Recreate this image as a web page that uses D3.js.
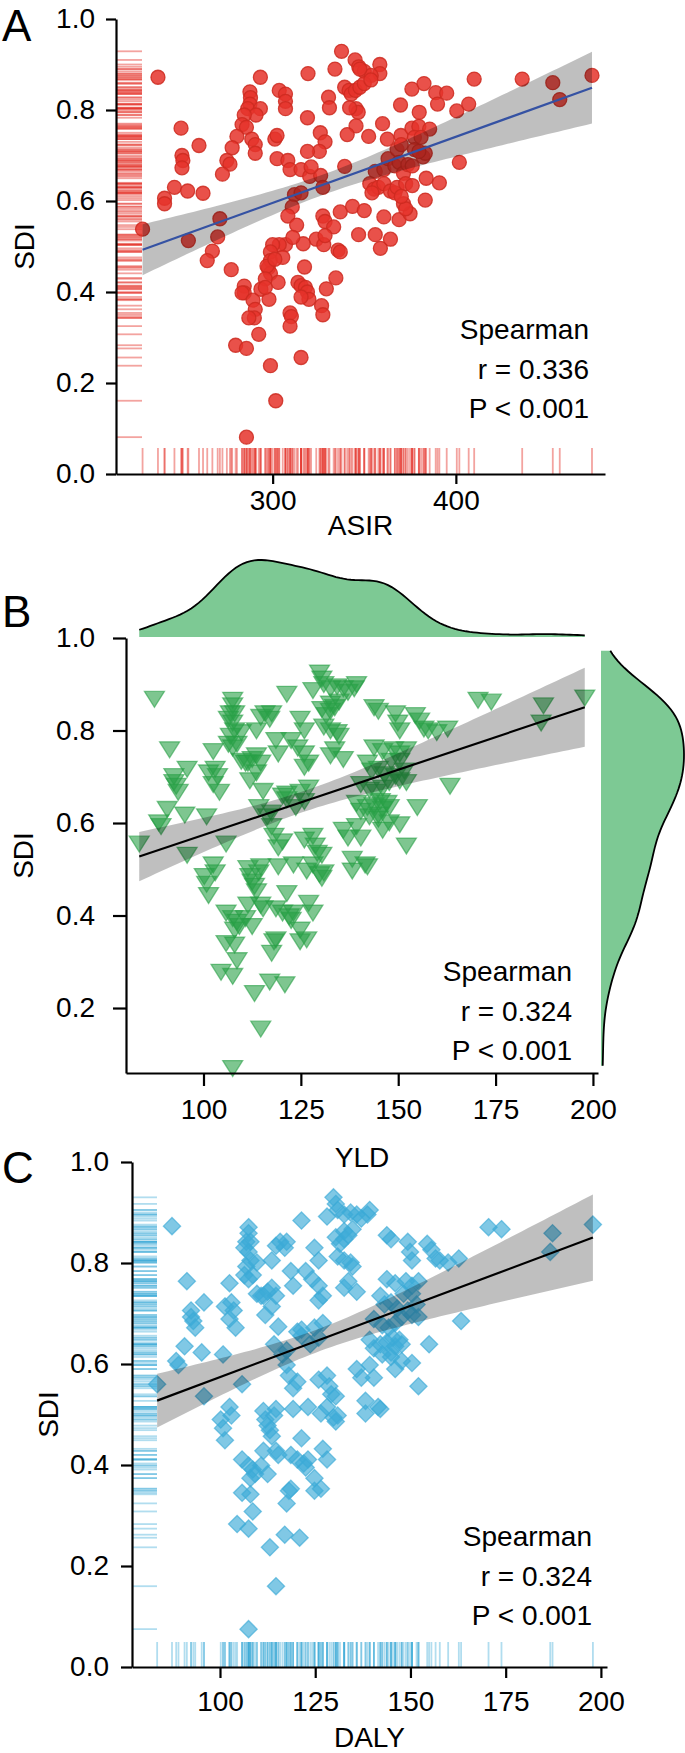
<!DOCTYPE html>
<html>
<head>
<meta charset="utf-8">
<script src="https://cdn.jsdelivr.net/npm/d3@7"></script>
<style>
  body { margin: 0; background: #fff; }
  svg text { font-family: "Liberation Sans", Arial, Helvetica, sans-serif; fill: #000; }
</style>
</head>
<body>
<svg id="chart" width="685" height="1753"></svg>
<script>
// ---- data ----
// panel A: ASIR vs SDI
var asirValues = [337.6,345,347,350,358.5,358.5,353.8,347.6,334,237.4,293.3,319.3,410,436.2,452.9,474.3,456.7,376,382.6,389,
  395,390,369.8,380,400.5,407,287.6,287.9,287.6,286.4,293.3,290.9,284.5,283.3,285.7,303.6,307,307,307,330.5,
  331,339.3,341.7,342.9,345.2,347.6,350,353.6,345.5,346.7,319,345.5,340.7,352.4,360,362.6,370,376,379.8,385.7,
  377.4,381,326,328.6,325.5,319,301.2,302.4,280.5,288.6,290.5,290.5,277.9,275,276.7,272.6,259.8,250,250.5,251,
  250.5,246.4,253.6,241,241,262,229,254,271.2,270,267.1,264.3,277.4,302.4,308.3,309.5,315.5,320.2,326.2,327.4,
  311.9,315.5,310.7,308.3,313.1,336.9,343.6,350,327.4,328.6,333.3,323.8,327.9,328.6,316.7,335.7,336.9,346.9,356,364.3,
  358.8,360.7,369,375,371.4,372.6,383.3,339.3,356,360.7,363,367.9,370.2,366.7,369,371.4,373.8,376.2,377.4,382.1,
  383.3,379.8,353,355.4,357.7,354.2,360.7,364.3,366.7,367.9,372.6,376.2,370.2,383.8,391,401.9,307,303.6,300,298.8,
  298.8,297.6,298.8,296.9,305.5,301.2,296,303,284.5,284.5,283.3,289.3,290.5,290,287,293.6,298,292.4,279.8,285.7,
  298.8,301.7,285.7,315.5,309.5,310.2,309.5,313.8,315.5,317.9,319,319.8,315.5,317.4,326.7,327.4,334.5,329.3,311,321,
  342,296];
var sdiA = [0.929,0.91,0.895,0.885,0.9,0.88,0.876,0.89,0.89,0.872,0.872,0.88,0.868,0.868,0.86,0.876,0.823,0.846,0.858,0.838,
  0.837,0.813,0.811,0.795,0.798,0.813,0.84,0.827,0.813,0.803,0.803,0.789,0.789,0.768,0.762,0.843,0.835,0.819,0.803,0.828,
  0.805,0.85,0.843,0.835,0.843,0.85,0.858,0.866,0.803,0.795,0.783,0.765,0.746,0.742,0.77,0.736,0.744,0.76,0.764,0.758,
  0.74,0.74,0.75,0.73,0.709,0.709,0.736,0.744,0.742,0.736,0.724,0.705,0.717,0.689,0.681,0.659,0.722,0.76,0.7,0.689,
  0.673,0.63,0.622,0.606,0.594,0.617,0.538,0.513,0.561,0.521,0.49,0.469,0.449,0.693,0.689,0.669,0.669,0.654,0.656,0.63,
  0.614,0.618,0.587,0.567,0.547,0.576,0.588,0.579,0.567,0.555,0.543,0.516,0.504,0.524,0.506,0.492,0.488,0.526,0.526,0.516,
  0.496,0.565,0.559,0.572,0.594,0.583,0.602,0.676,0.665,0.669,0.693,0.713,0.724,0.677,0.685,0.661,0.68,0.677,0.713,0.697,
  0.705,0.709,0.638,0.626,0.63,0.618,0.638,0.622,0.618,0.63,0.638,0.634,0.61,0.65,0.64,0.685,0.504,0.504,0.504,0.488,
  0.469,0.453,0.441,0.457,0.476,0.472,0.429,0.421,0.413,0.398,0.398,0.382,0.362,0.343,0.343,0.406,0.384,0.307,0.283,0.276,
  0.238,0.161,0.081,0.256,0.354,0.346,0.325,0.421,0.414,0.41,0.4,0.384,0.389,0.455,0.37,0.35,0.431,0.407,0.52,0.675,
  0.805,0.41];

// panel B: YLD vs SDI (panel C repeats the same countries against DALY)
var yldValues = [87.4,107.5,114.7,113.1,117,120.9,104.5,107.5,108.6,105.8,108,117.5,118.1,118.6,124.8,126.5,105.8,107.5,108.6,108,
  109.2,110.8,112.5,111.4,114.7,115.3,118.6,120.3,122,122.5,123.1,124.8,121.4,127,128.1,100.2,100.8,101.3,102.5,103,
  95.8,83.5,105.8,111.4,111.9,112.5,113.6,113.1,114.2,114.7,119.2,123.1,126.5,128.1,129.8,130.4,130.9,120.3,125.9,128.1,
  128.7,130.4,129.2,117.5,118.1,119.2,116.4,117.5,114.2,121.4,120.3,121.4,123.7,124.8,125.9,127,115.3,111.9,113.6,114.7,
  111.4,109.7,110.8,112.5,113.6,115.8,117.5,117,114.7,113.6,107.5,107.5,106.9,108,106.4,107.5,108,106.9,106.4,107.5,
  108.6,109.7,102.5,103,102.5,103.6,104.1,101.3,91.3,92.4,92.4,93,93.5,95.8,90.7,88.5,89.1,95.2,100.8,121.4,
  128.1,129.8,130.4,130.9,132.6,134.3,135.9,137.1,138.7,139.3,132.6,133.7,134.8,132.6,130.4,131.5,130.9,132.6,134.3,134.8,
  132.6,135.9,133.7,124.8,125.9,122.5,124.2,125.9,127,118.6,119.2,125.9,143.8,144.9,149.3,149.9,150.4,154.4,155.5,156.6,
  157.7,159.9,162.7,143.8,146,148.8,150.4,152.1,148.2,150.4,151.6,142.1,143.2,144.9,146.5,140.4,142.6,144.3,146,147.7,
  149.3,150.4,152.1,139.3,140.4,142.1,143.8,145.4,147.1,142.6,144.9,146,147.7,154.9,163.3,150.4,146,144.9,147.7,152.1,
  135.9,137.1,139.3,140.4,142.1,138.2,141.5,138.2,170.5,173.9,187.3,186.7,197.9];
var sdiB = [0.873,0.075,0.16,0.237,0.262,0.256,0.283,0.274,0.308,0.345,0.342,0.324,0.349,0.353,0.349,0.353,0.411,0.399,0.391,0.374,
  0.382,0.399,0.382,0.428,0.428,0.42,0.42,0.411,0.403,0.395,0.411,0.374,0.453,0.432,0.411,0.49,0.473,0.449,0.515,0.498,
  0.536,0.56,0.56,0.507,0.49,0.478,0.457,0.469,0.498,0.511,0.511,0.515,0.502,0.515,0.494,0.486,0.498,0.565,0.569,0.577,
  0.556,0.536,0.54,0.598,0.577,0.552,0.619,0.627,0.639,0.656,0.664,0.668,0.639,0.672,0.652,0.681,0.674,0.697,0.714,0.735,
  0.735,0.739,0.735,0.743,0.751,0.842,0.842,0.83,0.834,0.805,0.871,0.859,0.842,0.842,0.83,0.822,0.805,0.793,0.776,0.768,
  0.776,0.801,0.76,0.722,0.689,0.706,0.672,0.714,0.764,0.706,0.693,0.685,0.672,0.722,0.635,0.606,0.598,0.623,0.619,0.884,
  0.892,0.93,0.917,0.905,0.896,0.9,0.896,0.888,0.896,0.905,0.863,0.855,0.867,0.847,0.851,0.838,0.813,0.805,0.801,0.793,
  0.751,0.743,0.764,0.83,0.805,0.784,0.768,0.755,0.735,0.784,0.755,0.726,0.855,0.847,0.842,0.822,0.805,0.838,0.826,0.809,
  0.805,0.801,0.809,0.768,0.76,0.764,0.755,0.764,0.739,0.739,0.718,0.735,0.718,0.722,0.71,0.689,0.677,0.672,0.681,0.693,
  0.706,0.697,0.693,0.648,0.631,0.639,0.643,0.652,0.648,0.619,0.623,0.635,0.639,0.639,0.685,0.602,0.59,0.614,0.606,0.556,
  0.59,0.573,0.598,0.573,0.511,0.502,0.515,0.527,0.871,0.867,0.859,0.822,0.876];
var dalyValues = yldValues;
var sdiC = sdiB;

var asirTicks = [300, 400];
var yldTicks = [100, 125, 150, 175, 200];
var sdiTicks = [0, 0.2, 0.4, 0.6, 0.8, 1.0];
var sdiTicksB = [0.2, 0.4, 0.6, 0.8, 1.0];
var statsA = ["Spearman", "r = 0.336", "P < 0.001"];
var statsB = ["Spearman", "r = 0.324", "P < 0.001"];
var statsC = ["Spearman", "r = 0.324", "P < 0.001"];

var svg = d3.select("#chart");
var FS = 28;

// least squares fit with the usual 95% band
function linFit(xs, ys) {
    var n = xs.length, mx = d3.mean(xs), my = d3.mean(ys);
    var sxx = d3.sum(xs, function(d) { return (d - mx) * (d - mx); });
    var sxy = d3.sum(xs, function(d, i) { return (d - mx) * (ys[i] - my); });
    var b = sxy / sxx, a = my - b * mx;
    var rss = d3.sum(xs, function(d, i) { var e = ys[i] - a - b * d; return e * e; });
    var s = Math.sqrt(rss / (n - 2));
    return {
        at: function(x) { return a + b * x; },
        half: function(x) { return 1.972 * s * Math.sqrt(1 / n + (x - mx) * (x - mx) / sxx); }
    };
}

// gaussian kde, bandwidth like R's bw.nrd0
function bwNrd0(v) {
    var sorted = v.slice().sort(d3.ascending);
    var q = (d3.quantile(sorted, 0.75) - d3.quantile(sorted, 0.25)) / 1.34;
    return 0.9 * Math.min(d3.deviation(v), q) * Math.pow(v.length, -0.2);
}
function kde(v, grid) {
    var bw = bwNrd0(v);
    return grid.map(function(g) {
        var sum = d3.sum(v, function(d) { var z = (g - d) / bw; return Math.exp(-0.5 * z * z); });
        return [g, sum / (v.length * bw * Math.sqrt(2 * Math.PI))];
    });
}

function styleAxis(g) {
    g.selectAll("path, line").attr("stroke", "#000").attr("stroke-width", 2.2);
    g.selectAll("text").attr("font-size", FS).attr("fill", "#000")
        .attr("font-family", '"Liberation Sans", Arial, Helvetica, sans-serif');
}

function drawPanel(p) {
    var x = d3.scaleLinear().domain(p.xDomain).range(p.xRange);
    var y = d3.scaleLinear().domain(p.yDomain).range(p.yRange);
    var g = svg.append("g");

    // rugs
    if (p.rug) {
        g.append("g").selectAll("line").data(p.ys).enter().append("line")
            .attr("x1", p.xRange[0]).attr("x2", p.xRange[0] + p.rug)
            .attr("y1", function(d) { return y(d); }).attr("y2", function(d) { return y(d); })
            .attr("stroke", p.color).attr("stroke-opacity", p.rugOpacity).attr("stroke-width", 1.8);
        g.append("g").selectAll("line").data(p.xs).enter().append("line")
            .attr("y1", p.yRange[0]).attr("y2", p.yRange[0] - p.rug)
            .attr("x1", function(d) { return x(d); }).attr("x2", function(d) { return x(d); })
            .attr("stroke", p.color).attr("stroke-opacity", p.rugOpacity).attr("stroke-width", 1.8);
    }

    // points
    g.append("g").selectAll("path").data(p.xs).enter().append("path")
        .attr("d", p.shape)
        .attr("transform", function(d, i) { return "translate(" + x(d) + "," + y(p.ys[i]) + ")"; })
        .attr("fill", p.color).attr("fill-opacity", p.opacity)
        .attr("stroke", p.stroke).attr("stroke-opacity", p.opacity).attr("stroke-width", 1.3);

    // regression band + line
    var fit = linFit(p.xs, p.ys);
    var ext = d3.extent(p.xs);
    var grid = d3.range(0, 81).map(function(i) { return ext[0] + (ext[1] - ext[0]) * i / 80; });
    g.append("path").datum(grid)
        .attr("d", d3.area().x(function(d) { return x(d); })
            .y0(function(d) { return y(fit.at(d) - fit.half(d)); })
            .y1(function(d) { return y(fit.at(d) + fit.half(d)); }))
        .attr("fill", "#000").attr("fill-opacity", 0.25);
    g.append("line")
        .attr("x1", x(ext[0])).attr("y1", y(fit.at(ext[0])))
        .attr("x2", x(ext[1])).attr("y2", y(fit.at(ext[1])))
        .attr("stroke", p.lineColor).attr("stroke-width", 2.2);

    // axes
    var ax = g.append("g").attr("transform", "translate(0," + p.yRange[0] + ")")
        .call(d3.axisBottom(x).tickValues(p.xTicks).tickFormat(d3.format("d"))
            .tickSize(p.tick).tickSizeOuter(0).tickPadding(p.xPad));
    styleAxis(ax);
    var ay = g.append("g").attr("transform", "translate(" + p.xRange[0] + ",0)")
        .call(d3.axisLeft(y).tickValues(p.yTicks).tickFormat(d3.format(".1f"))
            .tickSize(p.tick).tickSizeOuter(0).tickPadding(p.yPad));
    styleAxis(ay);

    // titles
    g.append("text").attr("x", (p.xRange[0] + p.xRange[1]) / 2).attr("y", p.xTitleY)
        .attr("text-anchor", "middle").attr("font-size", FS).text(p.xTitle);
    g.append("text").attr("transform", "translate(" + p.yTitleX + "," + (p.yRange[0] + p.yRange[1]) / 2 + ") rotate(-90)")
        .attr("text-anchor", "middle").attr("font-size", FS).text("SDI");
    g.append("text").attr("x", 2).attr("y", p.labelY).attr("font-size", 44).text(p.label);

    // correlation text
    g.append("g").selectAll("text").data(p.stats).enter().append("text")
        .attr("x", p.statX).attr("y", function(d, i) { return p.statY + i * 39.5; })
        .attr("text-anchor", "end").attr("font-size", FS).text(function(d) { return d; });

    return {x: x, y: y};
}

var circle = d3.symbol().type(d3.symbolCircle).size(Math.PI * 7 * 7)();
var triDown = "M-10,-5.3L10,-5.3L0,10.6Z";
var diamond = "M0,-8.6L8.6,0L0,8.6L-8.6,0Z";

drawPanel({
    label: "A", labelY: 41, xs: asirValues, ys: sdiA,
    xDomain: [214.5, 481.4], xRange: [116, 605], yDomain: [0, 1], yRange: [474, 19],
    xTicks: asirTicks, yTicks: sdiTicks, tick: 10, xPad: 6, yPad: 11,
    shape: circle, color: "#E5332A", stroke: "#CC2A20", opacity: 0.85,
    rug: 26, rugOpacity: 0.45, lineColor: "#3552A3",
    xTitle: "ASIR", xTitleY: 535, yTitleX: 34,
    stats: statsA, statX: 589, statY: 339
});

var pb = drawPanel({
    label: "B", labelY: 627, xs: yldValues, ys: sdiB,
    xDomain: [80.1, 201.3], xRange: [126, 598], yDomain: [0.0595, 1], yRange: [1073, 638],
    xTicks: yldTicks, yTicks: sdiTicksB, tick: 13, xPad: 13, yPad: 18,
    shape: triDown, color: "rgb(40,160,70)", stroke: "rgb(40,160,70)", opacity: 0.6,
    rug: 0, lineColor: "#000",
    xTitle: "YLD", xTitleY: 1167, yTitleX: 33,
    stats: statsB, statX: 572, statY: 981
});

drawPanel({
    label: "C", labelY: 1183, xs: dalyValues, ys: sdiC,
    xDomain: [76.9, 201.6], xRange: [132, 607], yDomain: [0, 1], yRange: [1667, 1162],
    xTicks: yldTicks, yTicks: sdiTicks, tick: 11, xPad: 13, yPad: 12,
    shape: diamond, color: "rgb(60,170,215)", stroke: "rgb(60,170,215)", opacity: 0.65,
    rug: 25, rugOpacity: 0.4, lineColor: "#000",
    xTitle: "DALY", xTitleY: 1747, yTitleX: 58,
    stats: statsC, statX: 592, statY: 1546
});

// marginal densities for panel B
var densFill = "rgb(125,201,148)";
var extX = d3.extent(yldValues);
var topGrid = d3.range(0, 121).map(function(i) { return extX[0] + (extX[1] - extX[0]) * i / 120; });
var topDens = kde(yldValues, topGrid);
var hTop = d3.scaleLinear().domain([0, d3.max(topDens, function(d) { return d[1]; })]).range([637, 560]);
svg.append("path").datum(topDens)
    .attr("d", d3.area().x(function(d) { return pb.x(d[0]); }).y0(637).y1(function(d) { return hTop(d[1]); }))
    .attr("fill", densFill);
svg.append("path").datum(topDens)
    .attr("d", d3.line().x(function(d) { return pb.x(d[0]); }).y(function(d) { return hTop(d[1]); }))
    .attr("fill", "none").attr("stroke", "#000").attr("stroke-width", 1.8);

var minY = d3.min(sdiB), topY = 0.9725;
var rightGrid = d3.range(0, 121).map(function(i) { return minY + (topY - minY) * i / 120; });
var rightDens = kde(sdiB, rightGrid);
var wRight = d3.scaleLinear().domain([0, d3.max(rightDens, function(d) { return d[1]; })]).range([601, 684]);
svg.append("path").datum(rightDens)
    .attr("d", d3.area().y(function(d) { return pb.y(d[0]); }).x0(601).x1(function(d) { return wRight(d[1]); }))
    .attr("fill", densFill);
svg.append("path").datum(rightDens)
    .attr("d", d3.line().y(function(d) { return pb.y(d[0]); }).x(function(d) { return wRight(d[1]); }))
    .attr("fill", "none").attr("stroke", "#000").attr("stroke-width", 1.8);
</script>
</body>
</html>
